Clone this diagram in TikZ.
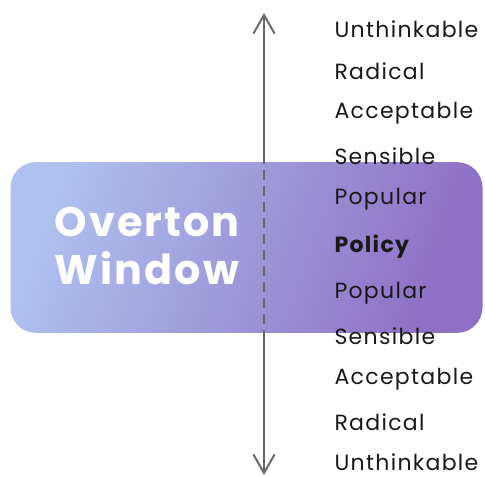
\documentclass[tikz,border=0pt]{standalone}
\usepackage{fontspec}
\setmainfont{Poppins}
\usetikzlibrary{arrows.meta}

\definecolor{winLight}{RGB}{174,192,238}
\definecolor{winDark}{RGB}{142,112,196}
\definecolor{axisGray}{RGB}{104,104,104}

\tikzset{every picture/.style={line width=0.75pt}}
\tikzset{
  level/.style={anchor=west, inner sep=0pt, text=black!90, font=\fontsize{16.5}{19}\selectfont\addfontfeatures{LetterSpace=6}},
  winbox/.style={rectangle, rounded corners=19pt, left color=winLight, right color=winDark, shading angle=70, minimum width=354pt, minimum height=128pt, inner sep=0pt},
  axis/.style={draw=axisGray, line width=1.5pt},
}

\begin{document}
\begin{tikzpicture}[x=0.75pt,y=0.75pt,yscale=-1,xscale=1]
\useasboundingbox (0,0) rectangle (485,476);

%Axis ends
\coordinate (top) at (264,13);
\coordinate (bottom) at (264,475);

%Straight Lines (axis with open heads)
\draw [axis, {Straight Barb[length=14pt,width=16pt]}-{Straight Barb[length=14pt,width=16pt]}] (top) -- (bottom);

%Shape: Rounded Rectangle (the window)
\node (window) [winbox] at (246.5,247.5) {};

%Straight Lines (dashed part inside the window)
\draw [axis, dash pattern={on 7.5pt off 4.5pt}] ([yshift=-6pt]window.north -| top) -- ([yshift=6pt]window.south -| top);

% Text Node
\node (title) [align=center, text=white, font=\fontsize{31}{36}\selectfont\bfseries\addfontfeatures{LetterSpace=5}] at (147,246) {Overton\\Window};

% Text Node
\node (u1) [level] at (334,29) {Unthinkable};
% Text Node
\node (r1) [level] at (334,71) {Radical};
% Text Node
\node (a1) [level] at (334,113) {Acceptable};
% Text Node
\node (s1) [level] at (334,156) {Sensible};
% Text Node
\node (p1) [level] at (334,199) {Popular};
% Text Node
\node (policy) [level, font=\fontsize{16.5}{19}\selectfont\bfseries\addfontfeatures{LetterSpace=6}] at (334,247) {Policy};
% Text Node
\node (p2) [level] at (334,293) {Popular};
% Text Node
\node (s2) [level] at (334,336) {Sensible};
% Text Node
\node (a2) [level] at (334,379) {Acceptable};
% Text Node
\node (r2) [level] at (334,422) {Radical};
% Text Node
\node (u2) [level] at (334,462) {Unthinkable};

\end{tikzpicture}
\end{document}
